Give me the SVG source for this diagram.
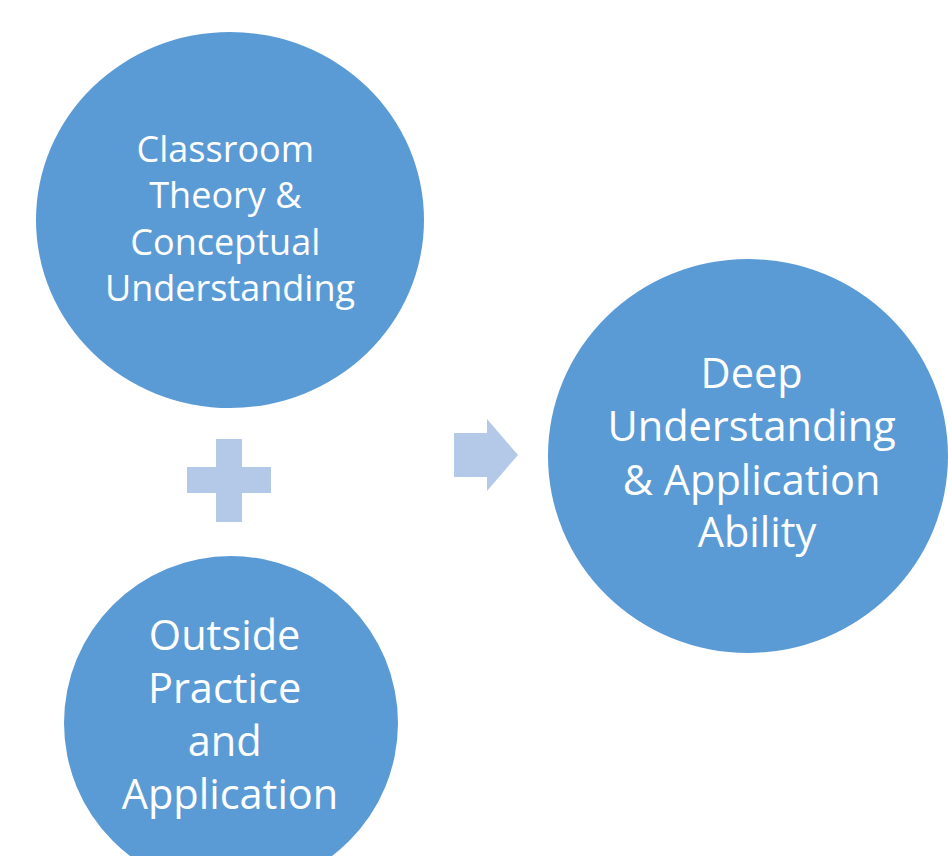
<svg xmlns="http://www.w3.org/2000/svg" width="948" height="856" viewBox="0 0 948 856">
  <style>
    .node { fill: #5B9BD5; }
    .sym { fill: #B4C9E7; }
    .label { fill: #FFFFFF; font-family: "Open Sans", Lato, sans-serif; text-anchor: middle; font-variant-ligatures: none; }
    .sm { font-size: 36px; }
    .lg { font-size: 41.5px; }
  </style>
  <rect width="948" height="856" fill="#FFFFFF"/>

  <g id="classroom-theory">
    <ellipse class="node" cx="230" cy="220" rx="194" ry="188"/>
    <text class="label sm">
      <tspan x="230" y="162">Classroom</tspan>
      <tspan x="230" y="208">Theory &amp;</tspan>
      <tspan x="230" y="255">Conceptual</tspan>
      <tspan x="230" y="301">Understanding</tspan>
    </text>
  </g>

  <g id="outside-practice">
    <circle class="node" cx="231" cy="723" r="167"/>
    <text class="label lg">
      <tspan x="230" y="650">Outside</tspan>
      <tspan x="230" y="703">Practice</tspan>
      <tspan x="230" y="756">and</tspan>
      <tspan x="230" y="809">Application</tspan>
    </text>
  </g>

  <g id="deep-understanding">
    <ellipse class="node" cx="748" cy="456" rx="200" ry="197"/>
    <text class="label lg">
      <tspan x="757" y="388">Deep</tspan>
      <tspan x="757" y="441">Understanding</tspan>
      <tspan x="757" y="495">&amp; Application</tspan>
      <tspan x="757" y="547">Ability</tspan>
    </text>
  </g>

  <g id="connectors">
    <!-- plus sign joining the two inputs -->
    <path class="sym" d="M216 439 H242 V467 H271 V493 H242 V522 H216 V493 H187 V467 H216 Z"/>
    <!-- block arrow leading to the outcome -->
    <path class="sym" d="M454 433 H487 V419 L518 455 L487 491 V477 H454 Z"/>
  </g>
</svg>
